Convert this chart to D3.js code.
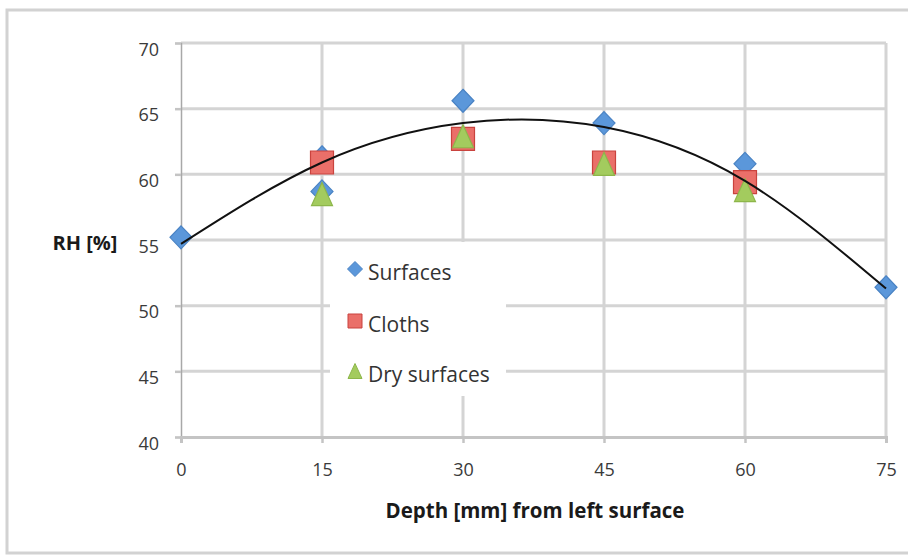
<!DOCTYPE html>
<html>
<head>
<meta charset="utf-8">
<script src="https://cdn.jsdelivr.net/npm/d3@7"></script>
<style>
html,body{margin:0;padding:0;background:#fff;}
svg{display:block;}
text{font-family:"Open Sans",sans-serif;}
</style>
</head>
<body>
<svg id="chart" width="908" height="556"></svg>
<script>
// ---- data ----
const xTicks = [0, 15, 30, 45, 60, 75];
const yTicks = [40, 45, 50, 55, 60, 65, 70];
const surfacesX = [0, 15, 15, 30, 45, 60, 75];
const surfacesY = [55.2, 61.3, 58.7, 65.6, 63.9, 60.8, 51.4];
const clothsX = [15, 30, 45, 60];
const clothsY = [60.9, 62.7, 60.9, 59.4];
const dryX = [15, 30, 45, 60];
const dryY = [58.5, 62.9, 60.8, 58.8];
const trendX = [0, 15, 30, 45, 60, 75];
const trendY = [54.7, 60.9, 63.9, 63.6, 59.5, 51.3];
const seriesNames = ["Surfaces", "Cloths", "Dry surfaces"];
const xTitle = "Depth [mm] from left surface";
const yTitle = "RH [%]";

const svg = d3.select("#chart");

// outer frame
svg.append("rect").attr("x", 7).attr("y", 10).attr("width", 920).attr("height", 543)
  .attr("fill", "#fff").attr("stroke", "#d2d2d2").attr("stroke-width", 3);

const x = d3.scaleLinear().domain([0, 75]).range([181, 886]);
const y = d3.scaleLinear().domain([40, 70]).range([437, 43]);

// gridlines
const grid = svg.append("g");
grid.selectAll(".hg").data(yTicks.filter(d => d > 40)).join("line")
  .attr("x1", x(0)).attr("x2", x(75)).attr("y1", d => y(d)).attr("y2", d => y(d))
  .attr("stroke", "#d4d4d4").attr("stroke-width", 3);
grid.selectAll(".vg").data(xTicks.filter(d => d > 0)).join("line")
  .attr("x1", d => x(d)).attr("x2", d => x(d)).attr("y1", y(70)).attr("y2", y(40))
  .attr("stroke", "#d4d4d4").attr("stroke-width", 3);

// axes
const yAxis = svg.append("g").attr("transform", `translate(${x(0)},0)`)
  .call(d3.axisLeft(y).tickValues(yTicks).tickSize(6).tickPadding(16));
const xAxis = svg.append("g").attr("transform", `translate(0,${y(40)})`)
  .call(d3.axisBottom(x).tickValues(xTicks).tickSize(6).tickPadding(20));
yAxis.select(".domain").attr("stroke", "#a8a8a8").attr("stroke-width", 1.5);
xAxis.select(".domain").attr("stroke", "#c4c4c4").attr("stroke-width", 3);
yAxis.selectAll(".tick line").attr("stroke", "#c4c4c4").attr("stroke-width", 2.5);
xAxis.selectAll(".tick line").attr("stroke", "#c4c4c4").attr("stroke-width", 2.5);
[yAxis, xAxis].forEach(a => a.selectAll("text")
  .attr("font-family", "'Open Sans',sans-serif").attr("font-size", 18).attr("fill", "#3a3a3a"));
yAxis.selectAll("text").attr("dy", "0.68em");

// axis titles
svg.append("text").attr("x", 535).attr("y", 518).attr("text-anchor", "middle")
  .attr("font-size", 20.5).attr("font-weight", "bold").attr("fill", "#1a1a1a").text(xTitle);
svg.append("text").attr("x", 85).attr("y", 250).attr("text-anchor", "middle")
  .attr("font-size", 20).attr("font-weight", "bold").attr("fill", "#1a1a1a").text(yTitle);

// legend background (covers gridlines)
const lg = svg.append("g");
lg.append("rect").attr("x", 330).attr("y", 242).attr("width", 176).attr("height", 154).attr("fill", "#fff");

// marker shapes
function diamond(w, h) { return `M0,${-h/2}L${w/2},0L0,${h/2}L${-w/2},0Z`; }
function square(s) { return `M${-s/2},${-s/2}H${s/2}V${s/2}H${-s/2}Z`; }
function tri(w, h) { return `M0,${-h/2}L${w/2},${h/2}L${-w/2},${h/2}Z`; }

const blue = {fill: "#5b97da", stroke: "#4a83c4"};
const red = {fill: "#ea6f69", stroke: "#c9433e"};
const green = {fill: "#a3cb5e", stroke: "#8db64a"};

function drawPoints(xs, ys, path, col) {
  svg.append("g").selectAll("path").data(xs.map((d, i) => [d, ys[i]])).join("path")
    .attr("transform", d => `translate(${x(d[0])},${y(d[1])})`)
    .attr("d", path).attr("fill", col.fill).attr("stroke", col.stroke).attr("stroke-width", 1.2);
}
drawPoints(surfacesX, surfacesY, diamond(22, 23), blue);
drawPoints(clothsX, clothsY, square(23), red);
drawPoints(dryX, dryY, tri(21, 23), green);

// trendline
svg.append("path").datum(trendX.map((d, i) => [d, trendY[i]]))
  .attr("d", d3.line().x(d => x(d[0])).y(d => y(d[1])).curve(d3.curveNatural))
  .attr("fill", "none").attr("stroke", "#111").attr("stroke-width", 2);

// legend entries
const legendItems = [
  {name: seriesNames[0], path: diamond(15, 15), col: blue, cy: 269},
  {name: seriesNames[1], path: square(14), col: red, cy: 321},
  {name: seriesNames[2], path: tri(14, 15), col: green, cy: 371}
];
legendItems.forEach(it => {
  lg.append("path").attr("transform", `translate(355,${it.cy})`).attr("d", it.path)
    .attr("fill", it.col.fill).attr("stroke", it.col.stroke).attr("stroke-width", 1);
  lg.append("text").attr("x", 368).attr("y", it.cy + 11).attr("font-size", 21)
    .attr("fill", "#333").text(it.name);
});
</script>
</body>
</html>
